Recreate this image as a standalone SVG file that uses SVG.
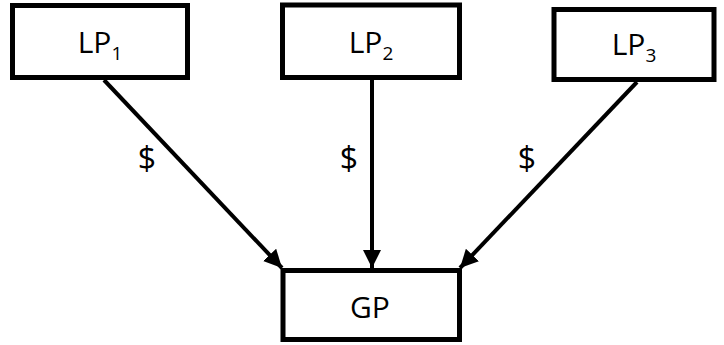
<svg xmlns="http://www.w3.org/2000/svg" width="724" height="345" viewBox="0 0 724 345">
<style>
.box{fill:#fff;stroke:#000;stroke-width:5}
.t{font-family:"Open Sans","Liberation Sans",sans-serif;font-size:30px;fill:#000;text-anchor:middle}
.d{font-size:32px}
.s{font-size:19px}
.e{stroke:#000;stroke-width:4;fill:none}
</style>
<defs>
<marker id="ah" viewBox="0 0 10 10" refX="10" refY="5" markerWidth="4.5" markerHeight="4.5" orient="auto" markerUnits="strokeWidth">
<path d="M0,0 L10,5 L0,10 z" fill="#000"/>
</marker>
</defs>
<g id="connectors">
<line class="e" x1="104" y1="80" x2="282" y2="268" marker-end="url(#ah)"/>
<line class="e" x1="372" y1="80" x2="372" y2="268" marker-end="url(#ah)"/>
<line class="e" x1="637" y1="82" x2="460" y2="268" marker-end="url(#ah)"/>
<text class="t d" x="147" y="170">$</text>
<text class="t d" x="349" y="170">$</text>
<text class="t d" x="527" y="170">$</text>
</g>
<g id="lp1">
<rect class="box" x="12.5" y="5.5" width="175" height="72"/>
<text class="t" x="100" y="53">LP<tspan class="s" dy="7">1</tspan></text>
</g>
<g id="lp2">
<rect class="box" x="282.5" y="5" width="177" height="72.5"/>
<text class="t" x="371" y="53">LP<tspan class="s" dy="7">2</tspan></text>
</g>
<g id="lp3">
<rect class="box" x="554" y="9.5" width="160" height="70"/>
<text class="t" x="634" y="55">LP<tspan class="s" dy="7">3</tspan></text>
</g>
<g id="gp">
<rect class="box" x="283" y="270.5" width="176.5" height="69"/>
<text class="t" x="370" y="318">GP</text>
</g>
</svg>
